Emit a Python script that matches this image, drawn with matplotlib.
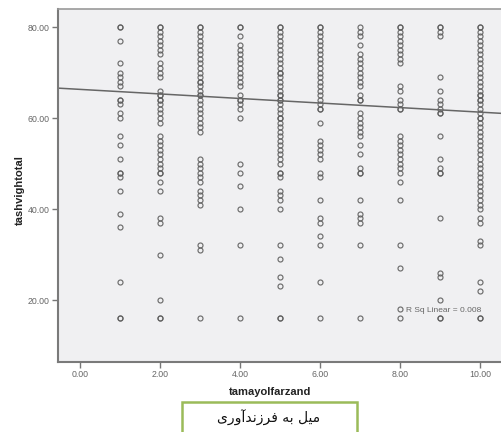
import matplotlib
matplotlib.use('Agg')
import matplotlib.pyplot as plt
from matplotlib.patches import Rectangle
import numpy as np

# tamayolfarzand (x) -> tashvightotal values
col1 = [80, 80, 77, 72, 70, 69, 68, 67, 64, 64, 63, 61, 60, 56, 54, 51, 48, 48, 47, 44, 39, 36, 24, 16, 16]
col2 = [80, 80, 79, 78, 77, 76, 75, 74, 72, 71, 70, 69, 66, 65, 65, 64, 64, 63, 62, 61, 60, 59,
        56, 55, 54, 53, 52, 51, 50, 49, 48, 48, 46, 44, 38, 37, 30, 20, 16, 16]
col3 = [80, 80, 79, 78, 77, 76, 75, 74, 73, 72, 71, 70, 69, 68, 68, 67, 66, 65, 65, 64, 63, 62, 61,
        60, 59, 58, 57, 51, 50, 49, 48, 47, 46, 44, 43, 42, 41, 32, 31, 16]
col4 = [80, 80, 78, 76, 75, 74, 73, 72, 71, 70, 69, 68, 67, 65, 64, 64, 63, 62, 60, 50, 48, 45, 40, 32, 16]
col5 = [80, 80, 79, 78, 77, 76, 75, 74, 73, 72, 71, 70, 70, 69, 68, 67, 66, 65, 65, 64, 64, 63, 62, 61,
        60, 60, 59, 58, 57, 56, 55, 54, 53, 52, 51, 50, 48, 48, 47, 44, 43, 42, 40, 32, 29, 25, 23, 16, 16]
col6 = [80, 80, 79, 78, 77, 76, 75, 74, 73, 72, 71, 70, 69, 68, 67, 66, 65, 64, 63, 62, 62, 59,
        55, 54, 53, 52, 51, 48, 47, 42, 38, 37, 34, 32, 24, 16]
col7 = [80, 79, 78, 76, 74, 73, 72, 71, 70, 69, 68, 67, 65, 64, 64, 61, 60, 59, 58, 57, 56, 54, 52,
        49, 48, 48, 42, 39, 38, 37, 32, 16]
col8 = [80, 80, 79, 78, 77, 76, 75, 74, 73, 72, 67, 66, 64, 63, 62, 62, 56, 55, 54, 53, 52, 51, 50,
        49, 48, 46, 42, 32, 27, 18, 16]
col9 = [80, 80, 79, 78, 69, 66, 64, 63, 62, 61, 61, 56, 51, 49, 48, 48, 38, 26, 25, 20, 16, 16]
col10 = [80, 80, 79, 78, 77, 76, 75, 74, 73, 72, 71, 70, 69, 68, 67, 66, 65, 65, 64, 64, 63, 62, 61,
         60, 60, 59, 58, 57, 56, 55, 54, 53, 52, 51, 50, 49, 48, 47, 46, 45, 44, 43, 42, 41, 40,
         38, 37, 33, 32, 24, 22, 16, 16]
columns = [col1, col2, col3, col4, col5, col6, col7, col8, col9, col10]

# fitted linear line as drawn in the chart
fit_intercept = 66.3
fit_slope = -0.5
r_sq = '0.008'

xticks = [0, 2, 4, 6, 8, 10]
yticks = [20, 40, 60, 80]

# visual-order Persian caption (pre-shaped glyph forms)
caption = '\uFEEF\uFEAD\uFEED\uFE81\uFEAA\uFEE7\uFEAF\uFEAE\uFED3 \uFEEA\uFE91 \uFEDE\uFEF4\uFEE3'

fig = plt.figure(figsize=(5.02, 4.32), dpi=100)
ax = fig.add_axes([58/502, 1 - 362/432, 1 - 58/502, (362 - 9)/432])
ax.set_facecolor('#f0f0f2')

for i, vals in enumerate(columns):
    xs = np.full(len(vals), i + 1)
    ax.plot(xs, vals, 'o', ms=3.6, mfc='none', mec='#5e5e5e', mew=0.85, alpha=0.9)

ax.set_xlim(-0.55, 10.55)
ax.set_ylim(6.4, 83.96)
lx = np.array(ax.get_xlim())
ax.plot(lx, fit_intercept + fit_slope * lx, color='#666666', lw=1.1)

ax.text(8.15, 17.7, 'R Sq Linear = ' + r_sq, fontsize=6, color='#666666',
        family='Liberation Sans', va='center')

ax.set_xticks(xticks)
ax.set_xticklabels(['%.2f' % t for t in xticks])
ax.set_yticks(yticks)
ax.set_yticklabels(['%.2f' % t for t in yticks])
ax.tick_params(direction='out', length=4, width=1, color='#777777', labelsize=6.3,
               labelcolor='#666666', pad=2)
for lab in ax.get_xticklabels() + ax.get_yticklabels():
    lab.set_family('Liberation Sans')

for s in ['left', 'bottom']:
    ax.spines[s].set_color('#7a7a7a')
    ax.spines[s].set_linewidth(1.5)
ax.spines['top'].set_color('#9a9a9a')
ax.spines['top'].set_linewidth(1.2)
ax.spines['right'].set_visible(False)

fig.text(270/502, 1 - 392/432, 'tamayolfarzand', ha='center', va='center',
         fontsize=8, fontweight='bold', color='#222222', family='Liberation Sans')
fig.text(20/502, 1 - 190/432, 'tashvightotal', ha='center', va='center', rotation=90,
         fontsize=8, fontweight='bold', color='#222222', family='Liberation Sans')

box = Rectangle((182/502, -0.02), 175/502, 0.02 + (432 - 402)/432, transform=fig.transFigure,
                facecolor='white', edgecolor='#9bbb59', lw=1.8)
fig.patches.append(box)
fig.text(269/502, 1 - 418/432, caption, ha='center', va='center', fontsize=10,
         color='#111111', family='DejaVu Sans')

fig.savefig('out.png', dpi=100)
